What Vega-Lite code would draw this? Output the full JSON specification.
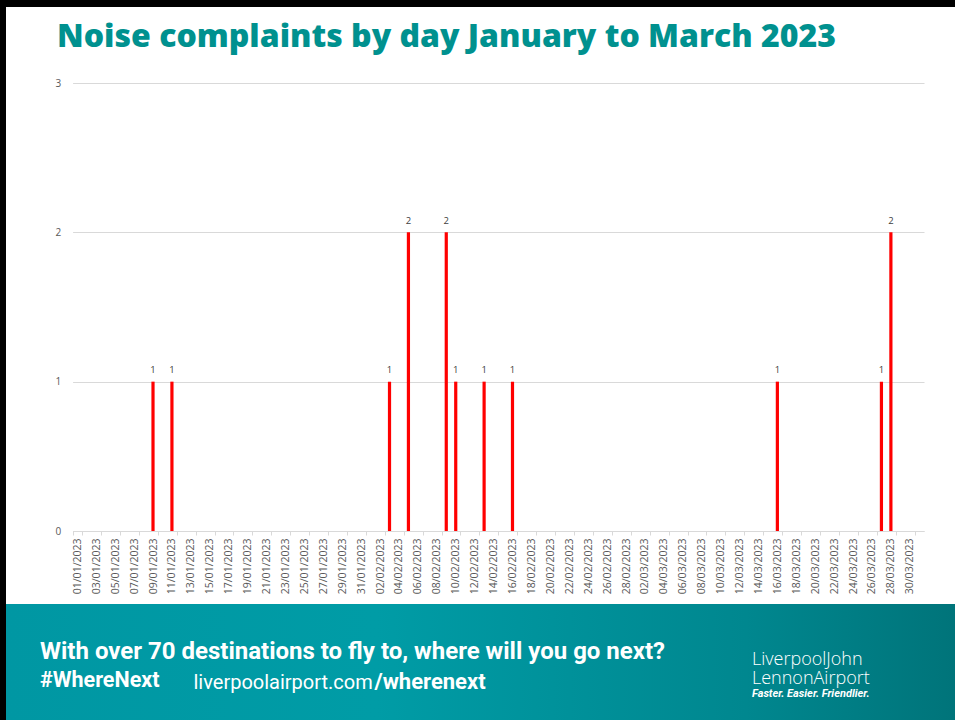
{
  "$schema": "https://vega.github.io/schema/vega-lite/v6.json",
  "background": "#000000",
  "padding": {"left": 1, "top": 7, "right": 0, "bottom": 0},
  "spacing": 0,
  "bounds": "flush",
  "config": {"view": {"stroke": null}, "concat": {"spacing": 0}},
  "datasets": {
    "daily": [
      {"date": "01/01/2023", "complaints": 0}, {"date": "02/01/2023", "complaints": 0}, {"date": "03/01/2023", "complaints": 0},
      {"date": "04/01/2023", "complaints": 0}, {"date": "05/01/2023", "complaints": 0}, {"date": "06/01/2023", "complaints": 0},
      {"date": "07/01/2023", "complaints": 0}, {"date": "08/01/2023", "complaints": 0}, {"date": "09/01/2023", "complaints": 1},
      {"date": "10/01/2023", "complaints": 0}, {"date": "11/01/2023", "complaints": 1}, {"date": "12/01/2023", "complaints": 0},
      {"date": "13/01/2023", "complaints": 0}, {"date": "14/01/2023", "complaints": 0}, {"date": "15/01/2023", "complaints": 0},
      {"date": "16/01/2023", "complaints": 0}, {"date": "17/01/2023", "complaints": 0}, {"date": "18/01/2023", "complaints": 0},
      {"date": "19/01/2023", "complaints": 0}, {"date": "20/01/2023", "complaints": 0}, {"date": "21/01/2023", "complaints": 0},
      {"date": "22/01/2023", "complaints": 0}, {"date": "23/01/2023", "complaints": 0}, {"date": "24/01/2023", "complaints": 0},
      {"date": "25/01/2023", "complaints": 0}, {"date": "26/01/2023", "complaints": 0}, {"date": "27/01/2023", "complaints": 0},
      {"date": "28/01/2023", "complaints": 0}, {"date": "29/01/2023", "complaints": 0}, {"date": "30/01/2023", "complaints": 0},
      {"date": "31/01/2023", "complaints": 0},
      {"date": "01/02/2023", "complaints": 0}, {"date": "02/02/2023", "complaints": 0}, {"date": "03/02/2023", "complaints": 1},
      {"date": "04/02/2023", "complaints": 0}, {"date": "05/02/2023", "complaints": 2}, {"date": "06/02/2023", "complaints": 0},
      {"date": "07/02/2023", "complaints": 0}, {"date": "08/02/2023", "complaints": 0}, {"date": "09/02/2023", "complaints": 2},
      {"date": "10/02/2023", "complaints": 1}, {"date": "11/02/2023", "complaints": 0}, {"date": "12/02/2023", "complaints": 0},
      {"date": "13/02/2023", "complaints": 1}, {"date": "14/02/2023", "complaints": 0}, {"date": "15/02/2023", "complaints": 0},
      {"date": "16/02/2023", "complaints": 1}, {"date": "17/02/2023", "complaints": 0}, {"date": "18/02/2023", "complaints": 0},
      {"date": "19/02/2023", "complaints": 0}, {"date": "20/02/2023", "complaints": 0}, {"date": "21/02/2023", "complaints": 0},
      {"date": "22/02/2023", "complaints": 0}, {"date": "23/02/2023", "complaints": 0}, {"date": "24/02/2023", "complaints": 0},
      {"date": "25/02/2023", "complaints": 0}, {"date": "26/02/2023", "complaints": 0}, {"date": "27/02/2023", "complaints": 0},
      {"date": "28/02/2023", "complaints": 0},
      {"date": "01/03/2023", "complaints": 0}, {"date": "02/03/2023", "complaints": 0}, {"date": "03/03/2023", "complaints": 0},
      {"date": "04/03/2023", "complaints": 0}, {"date": "05/03/2023", "complaints": 0}, {"date": "06/03/2023", "complaints": 0},
      {"date": "07/03/2023", "complaints": 0}, {"date": "08/03/2023", "complaints": 0}, {"date": "09/03/2023", "complaints": 0},
      {"date": "10/03/2023", "complaints": 0}, {"date": "11/03/2023", "complaints": 0}, {"date": "12/03/2023", "complaints": 0},
      {"date": "13/03/2023", "complaints": 0}, {"date": "14/03/2023", "complaints": 0}, {"date": "15/03/2023", "complaints": 0},
      {"date": "16/03/2023", "complaints": 1}, {"date": "17/03/2023", "complaints": 0}, {"date": "18/03/2023", "complaints": 0},
      {"date": "19/03/2023", "complaints": 0}, {"date": "20/03/2023", "complaints": 0}, {"date": "21/03/2023", "complaints": 0},
      {"date": "22/03/2023", "complaints": 0}, {"date": "23/03/2023", "complaints": 0}, {"date": "24/03/2023", "complaints": 0},
      {"date": "25/03/2023", "complaints": 0}, {"date": "26/03/2023", "complaints": 0}, {"date": "27/03/2023", "complaints": 1},
      {"date": "28/03/2023", "complaints": 2}, {"date": "29/03/2023", "complaints": 0}, {"date": "30/03/2023", "complaints": 0},
      {"date": "31/03/2023", "complaints": 0}
    ]
  },
  "vconcat": [
    {
      "width": 949,
      "height": 597,
      "view": {"fill": "#ffffff", "stroke": null},
      "title": {
        "text": "Noise complaints by day January to March 2023",
        "anchor": "start", "frame": "group", "orient": "top",
        "dx": 51, "offset": -72, "baseline": "alphabetic",
        "font": "Open Sans", "fontWeight": 800, "fontSize": 32, "color": "#00918F"
      },
      "data": {"name": "daily"},
      "encoding": {
        "x": {
          "field": "date", "type": "ordinal", "sort": null,
          "scale": {"range": [66.6, 918], "paddingInner": 0, "paddingOuter": 0},
          "axis": {
            "title": null,
            "values": ["01/01/2023","03/01/2023","05/01/2023","07/01/2023","09/01/2023","11/01/2023","13/01/2023","15/01/2023","17/01/2023","19/01/2023","21/01/2023","23/01/2023","25/01/2023","27/01/2023","29/01/2023","31/01/2023","02/02/2023","04/02/2023","06/02/2023","08/02/2023","10/02/2023","12/02/2023","14/02/2023","16/02/2023","18/02/2023","20/02/2023","22/02/2023","24/02/2023","26/02/2023","28/02/2023","02/03/2023","04/03/2023","06/03/2023","08/03/2023","10/03/2023","12/03/2023","14/03/2023","16/03/2023","18/03/2023","20/03/2023","22/03/2023","24/03/2023","26/03/2023","28/03/2023","30/03/2023"],
            "tickBand": "extent",
            "labelAngle": -90,
            "labelFont": "Open Sans", "labelFontSize": 10.5, "labelColor": "#595959",
            "labelPadding": 3, "labelOverlap": false,
            "tickColor": "#D9D9D9", "tickSize": 4,
            "domainColor": "#D9D9D9",
            "offset": -73,
            "grid": false
          }
        },
        "y": {
          "field": "complaints", "type": "quantitative",
          "scale": {"domain": [0, 3], "range": [524, 76], "nice": false},
          "axis": {
            "title": null, "values": [0, 1, 2, 3], "format": "d",
            "offset": -66.6, "domain": false, "ticks": false, "tickSize": 0,
            "labelPadding": 12, "labelFont": "Open Sans", "labelFontSize": 10, "labelColor": "#595959",
            "grid": true, "gridColor": "#D9D9D9", "gridWidth": 1
          }
        }
      },
      "layer": [
        {"mark": {"type": "bar", "color": "#FF0000", "width": 3.2}},
        {
          "transform": [{"filter": "datum.complaints > 0"}],
          "mark": {"type": "text", "dy": -11.5, "baseline": "middle", "font": "Open Sans", "fontSize": 9.5, "color": "#404040"},
          "encoding": {"text": {"field": "complaints", "type": "quantitative"}}
        }
      ]
    },
    {
      "hconcat": [
        {
          "width": 740,
          "height": 116,
          "view": {"fill": {"gradient": "linear", "x1": 0, "x2": 1, "y1": 0, "y2": 0, "stops": [{"offset": 0, "color": "#0097A3"}, {"offset": 0.5, "color": "#009CA6"}, {"offset": 1, "color": "#00878F"}]}, "stroke": null},
          "title": {
            "text": "With over 70 destinations to fly to, where will you go next?",
            "subtitle": "#WhereNext",
            "anchor": "start", "frame": "group", "orient": "top",
            "dx": 34, "offset": -106.5, "baseline": "alphabetic",
            "font": "Roboto", "fontWeight": 700, "fontSize": 24, "color": "#ffffff",
            "subtitleFont": "Roboto", "subtitleFontWeight": 700, "subtitleFontSize": 21.5, "subtitleColor": "#ffffff",
            "subtitlePadding": 4
          },
          "data": {"values": []},
          "mark": "text",
          "encoding": {
            "x": {"field": "u", "type": "quantitative", "scale": {"domain": [0, 1]},
              "axis": {"title": "liverpoolairport.com", "domain": false, "ticks": false, "labels": false, "grid": false,
                "titleX": 187, "titleY": -32, "titleAlign": "left", "titleBaseline": "alphabetic", "titleAngle": 0,
                "titleFont": "Roboto", "titleFontWeight": 400, "titleFontSize": 20, "titleColor": "#ffffff"}},
            "y": {"field": "v", "type": "quantitative", "scale": {"domain": [0, 1]},
              "axis": {"orient": "right", "title": "/wherenext", "domain": false, "ticks": false, "labels": false, "grid": false,
                "titleX": -372, "titleY": 84, "titleAlign": "left", "titleBaseline": "alphabetic", "titleAngle": 0,
                "titleFont": "Roboto", "titleFontWeight": 700, "titleFontSize": 22, "titleColor": "#ffffff"}}
          }
        },
        {
          "width": 209,
          "height": 116,
          "view": {"fill": {"gradient": "linear", "x1": 0, "x2": 1, "y1": 0, "y2": 0, "stops": [{"offset": 0, "color": "#00878F"}, {"offset": 1, "color": "#00747A"}]}, "stroke": null},
          "title": {
            "text": ["LiverpoolJohn", "LennonAirport"],
            "subtitle": "Faster. Easier. Friendlier.",
            "anchor": "start", "frame": "group", "orient": "top",
            "dx": 6, "offset": -109, "baseline": "alphabetic", "lineHeight": 19.5,
            "font": "Open Sans", "fontWeight": 300, "fontSize": 18, "color": "#ffffff",
            "subtitleFont": "Roboto", "subtitleFontWeight": 700, "subtitleFontStyle": "italic", "subtitleFontSize": 11, "subtitleColor": "#ffffff",
            "subtitlePadding": -5
          },
          "data": {"values": []},
          "mark": "text"
        }
      ]
    }
  ]
}
